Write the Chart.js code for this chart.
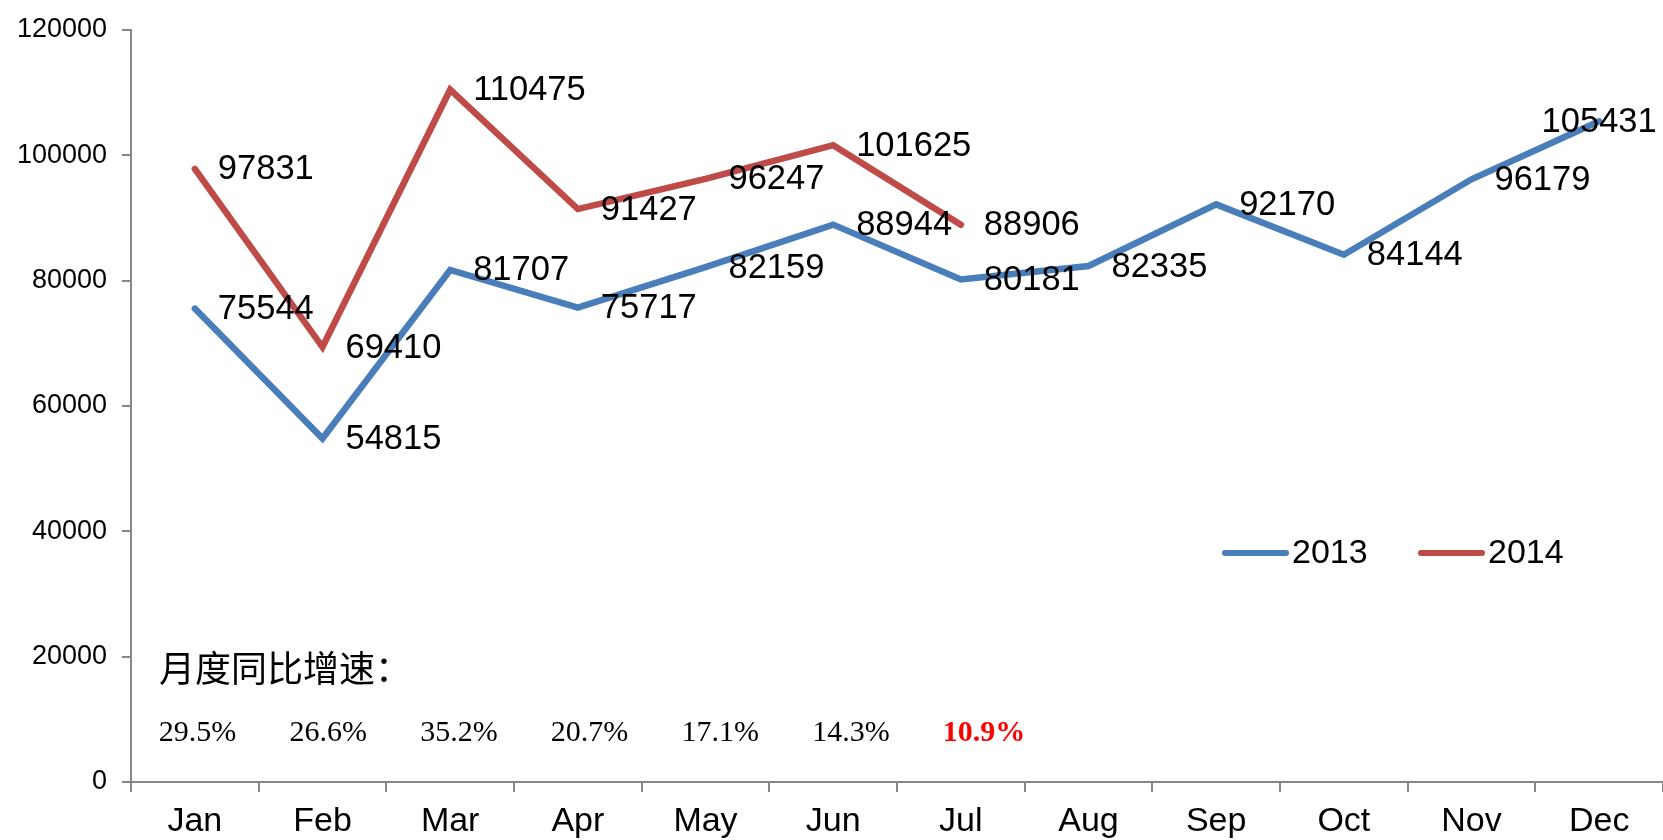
<!DOCTYPE html>
<html>
<head>
  <meta charset="utf-8">
  <title>Monthly volume 2013 vs 2014</title>
  <script src="https://cdn.jsdelivr.net/npm/chart.js"></script>
  <style>
    body {
      margin: 0;
      background: #ffffff;
    }
    #wrap {
      width: 1663px;
      height: 840px;
    }
  </style>
</head>
<body>
  <div id="wrap"><canvas id="chart" width="1663" height="840"></canvas></div>

  <script>
    const months = ["Jan", "Feb", "Mar", "Apr", "May", "Jun", "Jul", "Aug", "Sep", "Oct", "Nov", "Dec"];
    const values2013 = [75544, 54815, 81707, 75717, 82159, 88944, 80181, 82335, 92170, 84144, 96179, 105431];
    const values2014 = [97831, 69410, 110475, 91427, 96247, 101625, 88906];
    const growthLabels = ["29.5%", "26.6%", "35.2%", "20.7%", "17.1%", "14.3%", "10.9%"];
    const growthTitle = "月度同比增速：";
    const yTicks = [0, 20000, 40000, 60000, 80000, 100000, 120000];

    const blue = "#4A7EBB";
    const red = "#BE4B48";
    const axisGray = "#878787";
    const sans = "'Liberation Sans', Arial, sans-serif";

    // labels, growth rates and the legend are drawn on the canvas after the lines
    const overlayPlugin = {
      id: "overlay",
      afterDatasetsDraw(chart) {
        const ctx = chart.ctx;
        const area = chart.chartArea;
        const xs = chart.scales.x;
        ctx.save();

        // value labels, right of each point
        ctx.font = "34.5px " + sans;
        ctx.fillStyle = "#000";
        ctx.textBaseline = "middle";
        chart.data.datasets.forEach((ds, di) => {
          const meta = chart.getDatasetMeta(di);
          meta.data.forEach((pt, i) => {
            const txt = String(ds.data[i]);
            const w = ctx.measureText(txt).width;
            let left = pt.x + 23;
            if (left + w > chart.width) left = pt.x - w / 2;
            ctx.textAlign = "left";
            ctx.fillText(txt, left, pt.y + 1);
          });
        });

        // growth title
        ctx.font = "36px 'Noto Sans CJK SC', sans-serif";
        ctx.textAlign = "left";
        ctx.fillText(growthTitle, area.left + 28, 668);

        // growth rates
        growthLabels.forEach((txt, i) => {
          const last = i === growthLabels.length - 1;
          ctx.font = (last ? "bold " : "") + "30px 'Liberation Serif', 'Times New Roman', serif";
          ctx.fillStyle = last ? "#FF0000" : "#000";
          ctx.fillText(txt, xs.getPixelForValue(i) - 36 + i * 3, 733);
        });

        // legend
        const legendX = [1225, 1421];
        ctx.font = "34px " + sans;
        chart.data.datasets.forEach((ds, di) => {
          const x0 = legendX[di];
          ctx.strokeStyle = ds.borderColor;
          ctx.lineWidth = 6;
          ctx.lineCap = "round";
          ctx.beginPath();
          ctx.moveTo(x0, 553);
          ctx.lineTo(x0 + 61, 553);
          ctx.stroke();
          ctx.fillStyle = "#000";
          ctx.fillText(ds.label, x0 + 67, 554);
        });

        ctx.restore();
      }
    };

    new Chart(document.getElementById("chart").getContext("2d"), {
      type: "line",
      data: {
        labels: months,
        datasets: [
          {
            label: "2013",
            data: values2013,
            borderColor: blue,
            backgroundColor: blue,
            borderWidth: 6.5,
            borderJoinStyle: "miter",
            borderCapStyle: "round",
            pointRadius: 0,
            tension: 0,
            fill: false
          },
          {
            label: "2014",
            data: values2014,
            borderColor: red,
            backgroundColor: red,
            borderWidth: 6.5,
            borderJoinStyle: "miter",
            borderCapStyle: "round",
            pointRadius: 0,
            tension: 0,
            fill: false
          }
        ]
      },
      options: {
        responsive: false,
        animation: false,
        layout: { padding: { top: 30, right: 0, left: 0, bottom: 0 } },
        plugins: {
          legend: { display: false },
          tooltip: { enabled: false }
        },
        scales: {
          x: {
            offset: true,
            grid: {
              offset: true,
              drawOnChartArea: false,
              drawTicks: true,
              tickLength: 10,
              color: axisGray,
              lineWidth: 2
            },
            border: { color: axisGray, width: 2 },
            ticks: {
              color: "#000",
              font: { family: sans, size: 34 },
              padding: 9,
              maxRotation: 0,
              autoSkip: false
            },
            afterFit(s) { s.height = 58; }
          },
          y: {
            min: 0,
            max: 120000,
            afterBuildTicks(s) { s.ticks = yTicks.map(v => ({ value: v })); },
            grid: {
              drawOnChartArea: false,
              drawTicks: true,
              tickLength: 9,
              color: axisGray,
              lineWidth: 2
            },
            border: { color: axisGray, width: 2 },
            ticks: {
              color: "#000",
              font: { family: sans, size: 27 },
              padding: 15,
              callback: v => String(v)
            },
            afterFit(s) {
              s.width = 131;
              s.paddingTop = 0;
              s.paddingBottom = 0;
            }
          }
        }
      },
      plugins: [overlayPlugin]
    });
  </script>
</body>
</html>
